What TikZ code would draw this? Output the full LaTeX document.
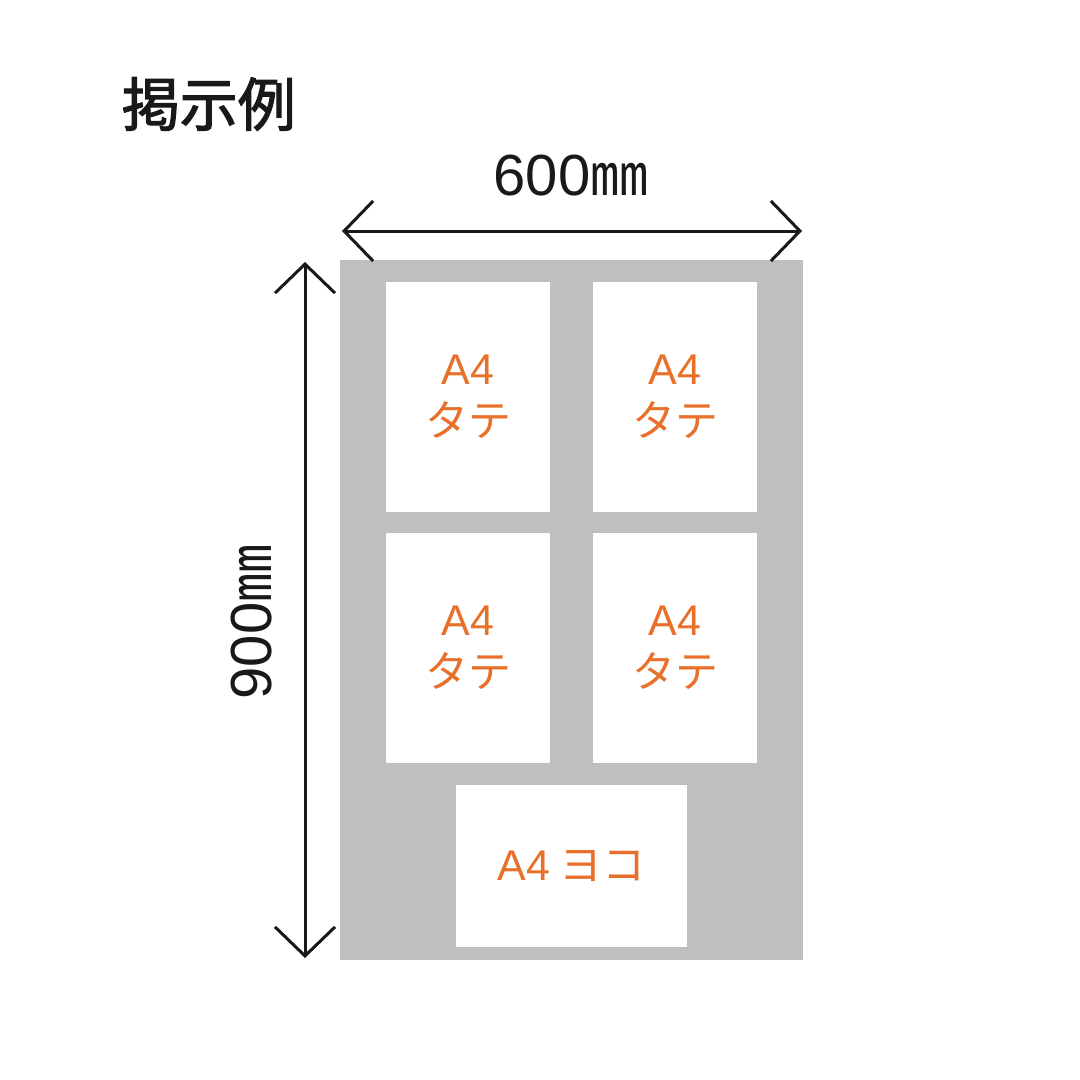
\documentclass[tikz,border=0pt]{standalone}
\usepackage{fontspec}
\setmainfont{Noto Sans CJK JP}
\newfontfamily\latin{Liberation Sans}
\newfontfamily\heading[FakeBold=2]{Noto Sans CJK JP}
\usetikzlibrary{arrows.meta}
\definecolor{boardgray}{HTML}{BEBFC1}
\definecolor{labelorange}{HTML}{E8702A}

\begin{document}
\begin{tikzpicture}[x=1pt, y=-1pt, line width=3pt,
	sheet/.style = {fill=white, inner sep=0pt, outer sep=0pt, text=labelorange, font=\fontsize{43}{52}\selectfont, align=center},
	dim/.style = {draw=black!90, {Straight Barb[length=29pt, width=60pt]}-{Straight Barb[length=29pt, width=60pt]}}]
	\useasboundingbox (0,0) rectangle (1080,1080);
	\node[fill=boardgray, minimum width=463pt, minimum height=700pt, inner sep=0pt] (board) at (571.5,610) {};
	\node[sheet, minimum width=164pt, minimum height=230pt] (tl) at (468,397) {{\latin A4}\\タテ};
	\node[sheet, minimum width=164pt, minimum height=230pt] (tr) at (675,397) {{\latin A4}\\タテ};
	\node[sheet, minimum width=164pt, minimum height=230pt] (bl) at (468,648) {{\latin A4}\\タテ};
	\node[sheet, minimum width=164pt, minimum height=230pt] (br) at (675,648) {{\latin A4}\\タテ};
	\node[sheet, minimum width=231pt, minimum height=162pt] (wide) at (571.5,866) {{\latin A4} ヨコ};
	
	\coordinate (wl) at (342,231);
	\coordinate (wr) at (802,231);
	\coordinate (ht) at (305,262);
	\coordinate (hb) at (305,958);
	\draw[dim] (wl) -- (wr);
	\draw[dim] (ht) -- (hb);
	\node[font=\fontsize{58}{60}\selectfont, text=black!90] (width) at (571,176) {{\latin 600}㎜};
	\node[font=\fontsize{58}{60}\selectfont, text=black!90, rotate=90] (height) at (252,622) {{\latin 900}㎜};
	\node[font=\fontsize{58}{60}\selectfont\heading, text=black!90, anchor=west] (title) at (117,104) {掲示例};
\end{tikzpicture}
\end{document}
